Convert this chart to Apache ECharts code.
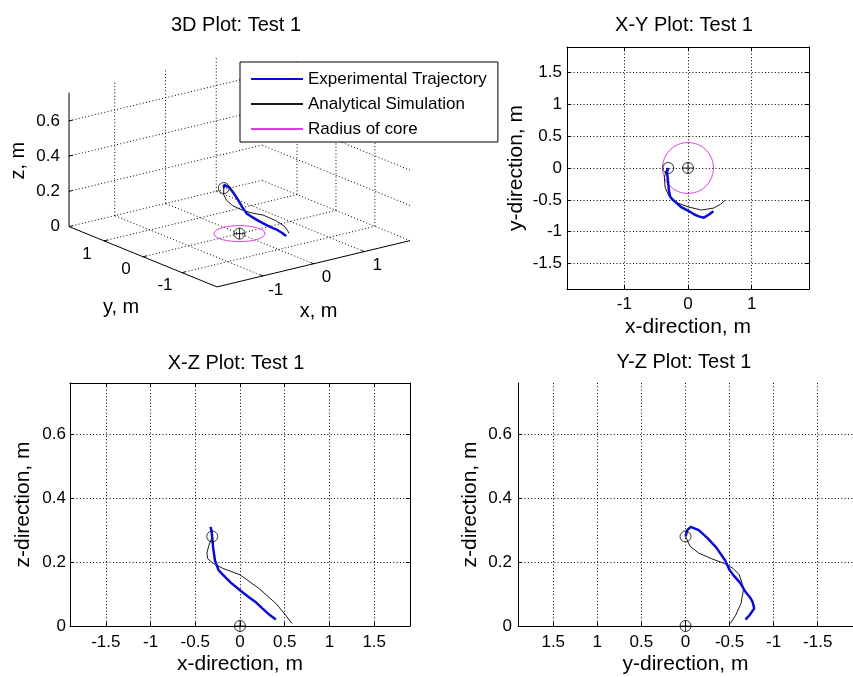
<!DOCTYPE html>
<html>
<head>
<meta charset="utf-8">
<script src="https://cdn.jsdelivr.net/npm/echarts@6/dist/echarts.min.js"></script>
<style>
  html, body { margin: 0; padding: 0; background: #fff; }
  #chart { width: 853px; height: 677px; }
</style>
</head>
<body>
<div id="chart"></div>
<script>
// ---- Test 1 data (metres) ----
// Experimental trajectory
const expX = [-0.31, -0.32, -0.33, -0.32, -0.31, -0.30, -0.28, -0.24, -0.19, -0.10, 0.02, 0.10, 0.17, 0.25, 0.33, 0.40];
const expY = [0.00, -0.02, -0.06, -0.15, -0.25, -0.35, -0.45, -0.50, -0.54, -0.62, -0.68, -0.73, -0.76, -0.78, -0.73, -0.68];
const expZ = [0.28, 0.30, 0.31, 0.30, 0.275, 0.245, 0.205, 0.175, 0.16, 0.135, 0.107, 0.09, 0.076, 0.055, 0.035, 0.02];

// Analytical simulation
const simX = [-0.31, -0.35, -0.37, -0.36, -0.30, -0.19, 0.00, 0.21, 0.40, 0.51, 0.58];
const simY = [0.00, -0.05, -0.15, -0.30, -0.44, -0.54, -0.61, -0.66, -0.63, -0.57, -0.51];
const simZ = [0.28, 0.25, 0.228, 0.21, 0.196, 0.18, 0.16, 0.118, 0.071, 0.034, 0.008];

// Core and release point
const coreRadius = 0.4;
const coreCentre = [0, 0, 0];
const startPoint = [-0.31, 0.0, 0.28];

// Axis limits
const horizLim = [-1.9, 1.9];
const zLim = [0, 0.76];

// Tick labels
const ticksXYh = [-1, 0, 1];
const ticksXYv = [-1.5, -1, -0.5, 0, 0.5, 1, 1.5];
const ticksHalf = [-1.5, -1, -0.5, 0, 0.5, 1, 1.5];
const ticksZ = [0, 0.2, 0.4, 0.6];
const ticks3D = [-1, 0, 1];

// Legend entries
const NAME_EXP = 'Experimental Trajectory';
const NAME_SIM = 'Analytical Simulation';
const NAME_CORE = 'Radius of core';

// ---- styling ----
const FONT = '"Liberation Sans", Arial, Helvetica, sans-serif';
const BLUE = '#0c0cd6';
const BLACK = '#1a1a1a';
const MAGENTA = '#dd3ddd';
const DOTS = [1, 2.3];
const TARGET = 'path://M0,-10A10,10,0,1,1,0,10A10,10,0,1,1,0,-10ZM-10,0L10,0M0,-10L0,10';

// ---- helpers ----
const pairs = (a, b) => a.map((v, i) => [v, b[i]]);

function coreRing() {
  const pts = [];
  for (let k = 0; k <= 96; k++) {
    const t = (k / 96) * Math.PI * 2;
    pts.push([coreCentre[0] + coreRadius * Math.cos(t), coreCentre[1] + coreRadius * Math.sin(t), coreCentre[2]]);
  }
  return pts;
}

// orthographic 3D view with the vertical stretch-to-fill of the axes box
const VIEW = { az: -37.5, el: 29.6, squash: 0.633 };
function project(X, Y, Z) {
  const u = (X - (horizLim[0] + horizLim[1]) / 2) / (horizLim[1] - horizLim[0]);
  const v = (Y - (horizLim[0] + horizLim[1]) / 2) / (horizLim[1] - horizLim[0]);
  const w = (Z - (zLim[0] + zLim[1]) / 2) / (zLim[1] - zLim[0]);
  const a = VIEW.az * Math.PI / 180, e = VIEW.el * Math.PI / 180;
  const sx = Math.cos(a) * u + Math.sin(a) * v;
  const depth = -Math.sin(a) * u + Math.cos(a) * v;
  const sy = VIEW.squash * (Math.sin(e) * depth + Math.cos(e) * w);
  return [sx, sy];
}

// 3D box: grid on the floor and the two back walls, plus axis lines and ticks
const [L0, L1] = horizLim;
const [Z0, Z1] = zLim;
const frame = [];
function seg(p, q, dotted) {
  const a = project(p[0], p[1], p[2]);
  const b = project(q[0], q[1], q[2]);
  frame.push([a[0], a[1], b[0], b[1], dotted ? 1 : 0]);
}
ticks3D.forEach(t => {
  seg([t, L0, Z0], [t, L1, Z0], true);
  seg([L0, t, Z0], [L1, t, Z0], true);
  seg([t, L1, Z0], [t, L1, Z1], true);
  seg([L1, t, Z0], [L1, t, Z1], true);
});
ticksZ.forEach(t => {
  seg([L0, L1, t], [L1, L1, t], true);
  seg([L1, L0, t], [L1, L1, t], true);
});
seg([L0, L0, Z0], [L1, L0, Z0], false);
seg([L0, L1, Z0], [L0, L0, Z0], false);
seg([L0, L1, Z0], [L0, L1, Z1], false);
const tk = 0.07;
ticks3D.forEach(t => {
  seg([t, L0, Z0], [t, L0 + tk, Z0], false);
  seg([L0, t, Z0], [L0 + tk, t, Z0], false);
});
ticksZ.forEach(t => seg([L0, L1, t], [L0 + tk, L1, t], false));

// 3D text labels
const labels3D = [];
ticksZ.forEach(t => labels3D.push({ p: project(L0, L1, t), text: String(t), dx: -9, dy: 0, align: 'right', size: 17 }));
ticks3D.forEach(t => labels3D.push({ p: project(L0, t, Z0), text: String(t), dx: -17, dy: 13, align: 'center', size: 17 }));
ticks3D.forEach(t => labels3D.push({ p: project(t, L0, Z0), text: String(t), dx: 13, dy: 14, align: 'center', size: 17 }));
labels3D.push({ p: project((L0 + L1) / 2, L0, Z0), text: 'x, m', dx: 5, dy: 48, align: 'center', size: 20 });
labels3D.push({ p: project(L0, (L0 + L1) / 2, Z0), text: 'y, m', dx: -22, dy: 51, align: 'center', size: 20 });
labels3D.push({ p: project(L0, L1, (Z0 + Z1) / 2), text: 'z, m', dx: -51, dy: 1, align: 'center', size: 20, rot: Math.PI / 2 });

const proj3 = (xs, ys, zs) => xs.map((x, i) => project(x, ys[i], zs[i]));

// ---- axes ----
function mainAxis(o) {
  return {
    type: 'value', gridIndex: o.grid, min: o.min, max: o.max, inverse: !!o.inverse,
    position: o.position, splitNumber: o.split,
    name: o.name, nameLocation: 'middle', nameGap: o.nameGap,
    nameTextStyle: { color: '#000', fontSize: 21, fontFamily: FONT },
    axisLine: { show: true, onZero: false, lineStyle: { color: '#000', width: 1 } },
    axisTick: { show: true, inside: true, length: 4, customValues: o.ticks, lineStyle: { color: '#000' } },
    axisLabel: { show: true, customValues: o.ticks, margin: o.margin, color: '#000', fontSize: 17, fontFamily: FONT },
    splitLine: { show: true, lineStyle: { color: '#000', width: 1, type: DOTS } }
  };
}
function boxAxis(o) {
  return {
    type: 'value', gridIndex: o.grid, min: o.min, max: o.max, position: o.position, splitNumber: o.split,
    axisLine: { show: true, onZero: false, lineStyle: { color: '#000', width: 1 } },
    axisTick: { show: true, inside: true, length: 4, customValues: o.ticks, lineStyle: { color: '#000' } },
    axisLabel: { show: false },
    splitLine: { show: false }
  };
}
function hiddenAxis(grid, min, max) {
  return { type: 'value', gridIndex: grid, min, max, show: false, splitLine: { show: false } };
}

const xAxes = [
  mainAxis({ grid: 0, min: L0, max: L1, split: 4, ticks: ticksXYh, position: 'bottom', name: 'x-direction, m', nameGap: 28, margin: 7 }),
  boxAxis({ grid: 0, min: L0, max: L1, split: 4, ticks: ticksXYh, position: 'top' }),
  mainAxis({ grid: 1, min: L0, max: L1, split: 8, ticks: ticksHalf, position: 'bottom', name: 'x-direction, m', nameGap: 28, margin: 8 }),
  boxAxis({ grid: 1, min: L0, max: L1, split: 8, ticks: ticksHalf, position: 'top' }),
  mainAxis({ grid: 2, min: L0, max: L1, split: 8, ticks: ticksHalf, position: 'bottom', inverse: true, name: 'y-direction, m', nameGap: 28, margin: 8 }),
  hiddenAxis(3, -0.75, 0.75)
];
const yAxes = [
  mainAxis({ grid: 0, min: L0, max: L1, split: 8, ticks: ticksXYv, position: 'left', name: 'y-direction, m', nameGap: 40, margin: 5 }),
  boxAxis({ grid: 0, min: L0, max: L1, split: 8, ticks: ticksXYv, position: 'right' }),
  mainAxis({ grid: 1, min: Z0, max: Z1, split: 4, ticks: ticksZ, position: 'left', name: 'z-direction, m', nameGap: 36, margin: 4 }),
  boxAxis({ grid: 1, min: Z0, max: Z1, split: 4, ticks: ticksZ, position: 'right' }),
  mainAxis({ grid: 2, min: Z0, max: Z1, split: 4, ticks: ticksZ, position: 'left', name: 'z-direction, m', nameGap: 37, margin: 6 }),
  hiddenAxis(3, -0.6, 0.65)
];

// ---- series ----
function lineSeries(name, data, xi, yi, color, width, z) {
  return {
    type: 'line', name, data, xAxisIndex: xi, yAxisIndex: yi,
    symbol: 'none', showSymbol: false, smooth: false, clip: false, z: z || 3,
    lineStyle: { color, width }, itemStyle: { color }, emphasis: { disabled: true }
  };
}
function marker(point, xi, yi, symbol) {
  return {
    type: 'scatter', data: [point], xAxisIndex: xi, yAxisIndex: yi, z: 5,
    symbol, symbolSize: 11, clip: false, silent: true,
    itemStyle: { color: 'rgba(0,0,0,0)', borderColor: '#000', borderWidth: 1 }
  };
}

const ring = coreRing();
const series = [
  // 3D view
  {
    type: 'custom', xAxisIndex: 5, yAxisIndex: 5, data: frame, silent: true, clip: false, z: 1,
    encode: { x: [0, 2], y: [1, 3] },
    renderItem: (params, api) => {
      const a = api.coord([api.value(0), api.value(1)]);
      const b = api.coord([api.value(2), api.value(3)]);
      return {
        type: 'line',
        shape: { x1: a[0], y1: a[1], x2: b[0], y2: b[1] },
        style: { stroke: '#000', lineWidth: 1, lineDash: api.value(4) ? DOTS : null }
      };
    }
  },
  lineSeries(NAME_EXP, proj3(expX, expY, expZ), 5, 5, BLUE, 2.5, 4),
  lineSeries(NAME_SIM, proj3(simX, simY, simZ), 5, 5, BLACK, 1, 3),
  lineSeries(NAME_CORE, ring.map(p => project(p[0], p[1], p[2])), 5, 5, MAGENTA, 1, 3),
  marker(project(startPoint[0], startPoint[1], startPoint[2]), 5, 5, 'circle'),
  marker(project(coreCentre[0], coreCentre[1], coreCentre[2]), 5, 5, TARGET),
  {
    type: 'custom', xAxisIndex: 5, yAxisIndex: 5, silent: true, clip: false, z: 6,
    data: labels3D.map((l, i) => [l.p[0], l.p[1], i]),
    encode: { x: 0, y: 1 },
    renderItem: (params, api) => {
      const l = labels3D[api.value(2)];
      const c = api.coord([api.value(0), api.value(1)]);
      return {
        type: 'text', x: c[0] + l.dx, y: c[1] + l.dy, rotation: l.rot || 0,
        style: { text: l.text, fill: '#000', font: l.size + 'px ' + FONT, align: l.align, verticalAlign: 'middle' }
      };
    }
  },
  // X-Y
  lineSeries(NAME_CORE, ring.map(p => [p[0], p[1]]), 0, 0, MAGENTA, 1, 3),
  lineSeries(NAME_SIM, pairs(simX, simY), 0, 0, BLACK, 1, 3),
  lineSeries(NAME_EXP, pairs(expX, expY), 0, 0, BLUE, 2.5, 4),
  marker([startPoint[0], startPoint[1]], 0, 0, 'circle'),
  marker([coreCentre[0], coreCentre[1]], 0, 0, TARGET),
  // X-Z
  lineSeries(NAME_SIM, pairs(simX, simZ), 2, 2, BLACK, 1, 3),
  lineSeries(NAME_EXP, pairs(expX, expZ), 2, 2, BLUE, 2.5, 4),
  marker([startPoint[0], startPoint[2]], 2, 2, 'circle'),
  marker([coreCentre[0], coreCentre[2]], 2, 2, TARGET),
  // Y-Z
  lineSeries(NAME_SIM, pairs(simY, simZ), 4, 4, BLACK, 1, 3),
  lineSeries(NAME_EXP, pairs(expY, expZ), 4, 4, BLUE, 2.5, 4),
  marker([startPoint[1], startPoint[2]], 4, 4, 'circle'),
  marker([coreCentre[1], coreCentre[2]], 4, 4, TARGET)
];

const titleText = (text, x, y) => ({
  type: 'text', x, y, silent: true,
  style: { text, fill: '#000', font: '20px ' + FONT, align: 'center', verticalAlign: 'middle' }
});

const option = {
  animation: false,
  backgroundColor: '#fff',
  grid: [
    { left: 567, top: 47, width: 242, height: 242 },
    { left: 70, top: 383, width: 340, height: 243 },
    { left: 518, top: 383, width: 339, height: 243 },
    { left: 57.1, top: 8.6, width: 364.8, height: 304 }
  ],
  xAxis: xAxes,
  yAxis: yAxes,
  legend: {
    data: [NAME_EXP, NAME_SIM, NAME_CORE],
    orient: 'vertical', left: 240, top: 62,
    itemWidth: 52, itemHeight: 14, itemGap: 5,
    padding: [7, 11, 3, 10],
    backgroundColor: '#fff', borderColor: '#000', borderWidth: 1, borderRadius: 0,
    selectedMode: false,
    itemStyle: { opacity: 0 },
    textStyle: { color: '#000', fontSize: 17, fontFamily: FONT, lineHeight: 20 }
  },
  graphic: [
    titleText('3D Plot: Test 1', 236, 25),
    titleText('X-Y Plot: Test 1', 684, 25),
    titleText('X-Z Plot: Test 1', 236, 363),
    titleText('Y-Z Plot: Test 1', 684, 362)
  ],
  series
};

const chart = echarts.init(document.getElementById('chart'));
chart.setOption(option);
</script>
</body>
</html>
